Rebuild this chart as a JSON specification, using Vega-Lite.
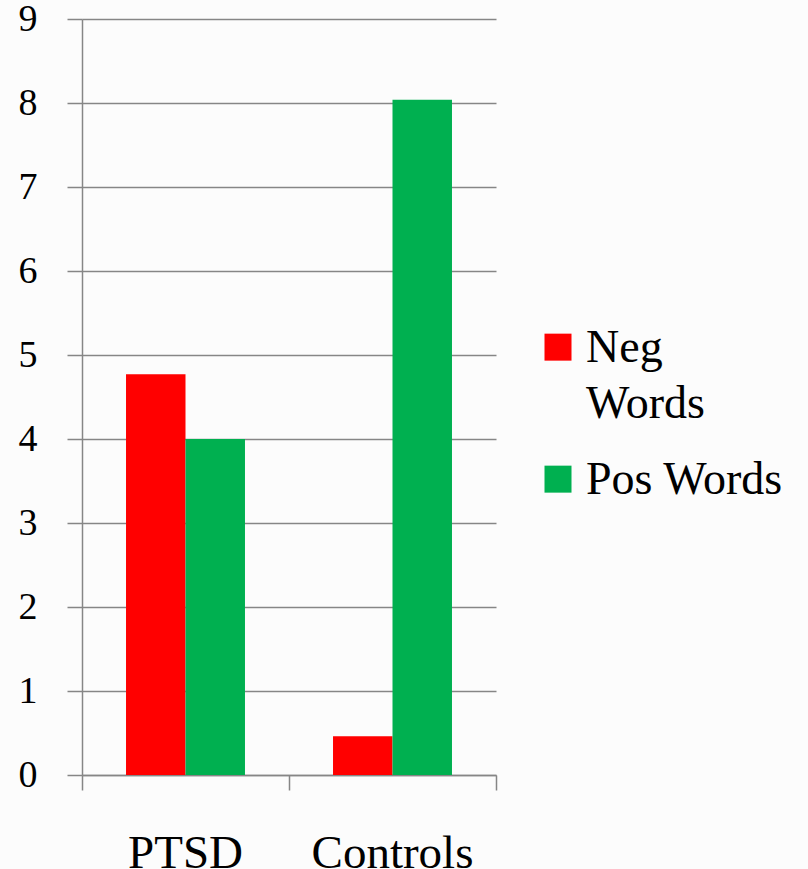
{
  "$schema": "https://vega.github.io/schema/vega-lite/v6.json",
  "width": 414,
  "height": 756,
  "autosize": "none",
  "padding": {"left": 82, "top": 19, "right": 312, "bottom": 94},
  "background": "#fcfcfc",
  "data": {
    "values": [
      {"group": "PTSD", "series": "Neg Words", "value": 4.77},
      {"group": "PTSD", "series": "Pos Words", "value": 4.0},
      {"group": "Controls", "series": "Neg Words", "value": 0.46},
      {"group": "Controls", "series": "Pos Words", "value": 8.04}
    ]
  },
  "mark": {"type": "bar"},
  "encoding": {
    "x": {
      "field": "group",
      "type": "nominal",
      "sort": ["PTSD", "Controls"],
      "scale": {"paddingInner": 0, "paddingOuter": 0},
      "axis": {
        "title": null,
        "labelAngle": 0,
        "bandPosition": 1,
        "tickExtra": true,
        "grid": false,
        "domainColor": "#868686",
        "domainWidth": 1.5,
        "tickColor": "#868686",
        "tickWidth": 1.5,
        "tickSize": 15,
        "labelFont": "Liberation Serif",
        "labelFontSize": 47,
        "labelColor": "#000000",
        "labelPadding": 40
      }
    },
    "xOffset": {
      "field": "series",
      "type": "nominal",
      "scale": {"paddingOuter": 0.74, "paddingInner": 0}
    },
    "y": {
      "field": "value",
      "type": "quantitative",
      "scale": {"domain": [0, 9], "nice": false},
      "axis": {
        "title": null,
        "values": [0, 1, 2, 3, 4, 5, 6, 7, 8, 9],
        "grid": true,
        "gridColor": "#868686",
        "gridWidth": 1.5,
        "gridOpacity": 1,
        "domainColor": "#868686",
        "domainWidth": 1.5,
        "tickColor": "#868686",
        "tickWidth": 1.5,
        "tickSize": 15,
        "labelFont": "Liberation Serif",
        "labelFontSize": 38,
        "labelColor": "#000000",
        "labelPadding": 30
      }
    },
    "color": {
      "field": "series",
      "type": "nominal",
      "scale": {"domain": ["Neg Words", "Pos Words"], "range": ["#ff0000", "#00b050"]},
      "legend": {
        "title": null,
        "orient": "none",
        "legendX": 453,
        "legendY": 320,
        "labelFont": "Liberation Serif",
        "labelFontSize": 46,
        "labelColor": "#000000",
        "labelBaseline": "alphabetic",
        "labelExpr": "datum.label == 'Neg Words' ? ['Neg', 'Words'] : datum.label",
        "labelLimit": 400,
        "labelOffset": 5,
        "symbolType": "M-1,-2.1H1V-0.1H-1Z",
        "symbolSize": 729,
        "symbolStrokeWidth": 0,
        "symbolOpacity": 1,
        "rowPadding": 30
      }
    }
  },
  "config": {
    "view": {"stroke": null},
    "style": {"guide-label": {"lineHeight": 56}}
  }
}
